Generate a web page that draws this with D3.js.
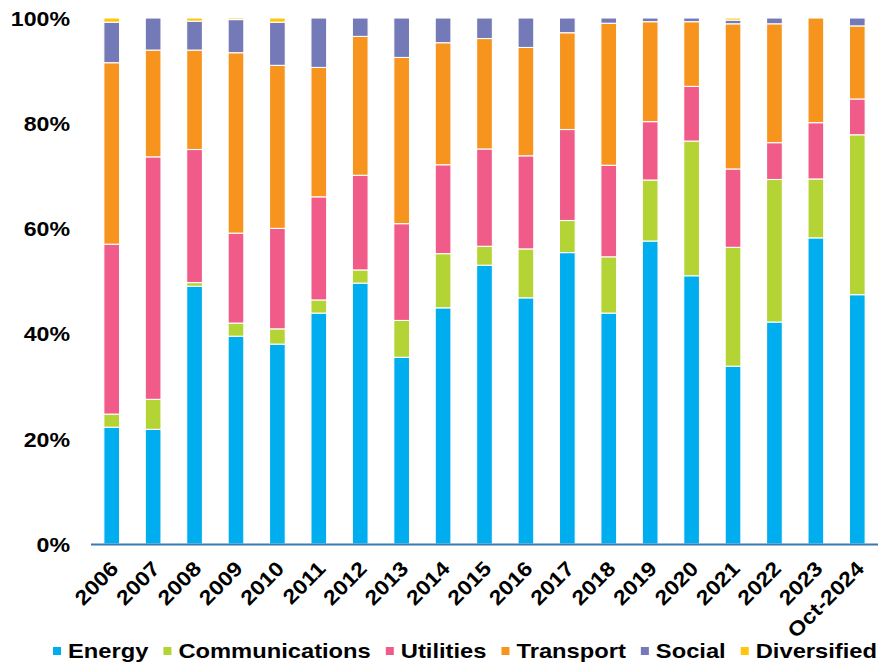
<!DOCTYPE html>
<html>
<head>
<meta charset="utf-8">
<script src="https://cdn.jsdelivr.net/npm/d3@7"></script>
<style>
  html, body { margin: 0; padding: 0; background: #ffffff; }
  svg { display: block; }
  text { font-family: "Liberation Sans", Arial, sans-serif; font-weight: bold; fill: #000; }
</style>
</head>
<body>
<svg id="chart" width="880" height="665"></svg>
<script>
// Share of infrastructure deals by sector, per year (percent of total)
const years = ["2006", "2007", "2008", "2009", "2010", "2011", "2012", "2013", "2014", "2015",
               "2016", "2017", "2018", "2019", "2020", "2021", "2022", "2023", "Oct-2024"];

const sectors = ["Energy", "Communications", "Utilities", "Transport", "Social", "Diversified"];

const energy         = [22.2, 21.8, 49.0, 39.5, 38.0, 43.9, 49.6, 35.5, 44.9, 53.0, 46.8, 55.4, 43.9, 57.6, 51.0, 33.8, 42.2, 58.2, 47.4];
const communications = [ 2.5,  5.7,  0.7,  2.5,  2.9,  2.5,  2.5,  7.0, 10.3,  3.6,  9.3,  6.1, 10.7, 11.6, 25.6, 22.6, 27.1, 11.2, 30.4];
const utilities      = [32.3, 46.1, 25.3, 17.1, 19.1, 19.6, 18.0, 18.4, 16.9, 18.5, 17.7, 17.3, 17.4, 11.1, 10.4, 14.9,  7.0, 10.7,  6.8];
const transport      = [34.5, 20.3, 18.9, 34.3, 31.0, 24.6, 26.4, 31.6, 23.2, 21.0, 20.6, 18.4, 27.0, 19.0, 12.3, 27.6, 22.6, 19.9, 13.9];
const social         = [ 7.7,  6.1,  5.5,  6.3,  8.2,  9.4,  3.5,  7.5,  4.7,  3.9,  5.6,  2.8,  1.0,  0.7,  0.7,  0.7,  1.1,  0.0,  1.5];
const diversified    = [ 0.8,  0.0,  0.6,  0.3,  0.8,  0.0,  0.0,  0.0,  0.0,  0.0,  0.0,  0.0,  0.0,  0.0,  0.0,  0.4,  0.0,  0.0,  0.0];

const yTicks = [0, 20, 40, 60, 80, 100];

const colors = {
  Energy: "#00adee",
  Communications: "#b4d334",
  Utilities: "#f05b8a",
  Transport: "#f7941e",
  Social: "#7479b7",
  Diversified: "#ffc60b"
};

// Labels are set in a horizontally widened bold sans
const STRETCH = 1.13;

// Build one row per year for the stack layout
const seriesValues = [energy, communications, utilities, transport, social, diversified];
const rows = years.map((year, i) => {
  const row = { year };
  sectors.forEach((s, k) => { row[s] = seriesValues[k][i]; });
  return row;
});

const svg = d3.select("#chart");
const margin = { left: 91, right: 2, top: 18, bottom: 121 };
const width = 880, height = 665;

const x = d3.scaleBand()
  .domain(years)
  .range([margin.left, width - margin.right])
  .paddingInner(0.62)
  .paddingOuter(0.31);

const y = d3.scaleLinear()
  .domain([0, 100])
  .range([height - margin.bottom, margin.top]);

const stacked = d3.stack().keys(sectors)(rows);

// Stacked bars
svg.append("g")
  .selectAll("g")
  .data(stacked)
  .join("g")
    .attr("fill", d => colors[d.key])
  .selectAll("rect")
  .data(d => d)
  .join("rect")
    .attr("x", d => x(d.data.year))
    .attr("width", x.bandwidth())
    .attr("y", d => y(d[1]))
    .attr("height", d => Math.max(0, y(d[0]) - y(d[1])))
    .attr("stroke", "#ffffff")
    .attr("stroke-width", 1.1);

// Y axis labels (no axis line)
const yAxis = svg.append("g")
  .attr("transform", `translate(${margin.left - 21},0)`)
  .call(d3.axisLeft(y).tickValues(yTicks).tickSize(0).tickPadding(0).tickFormat(d => d + "%"));
yAxis.select(".domain").remove();
yAxis.selectAll("text")
  .attr("x", 0)
  .attr("font-size", 20.5)
  .attr("dy", "0.36em")
  .attr("transform", `scale(${STRETCH},1)`)
  .style("font-family", "'Liberation Sans', Arial, sans-serif")
  .style("font-weight", "bold")
  .attr("fill", "#000");

// X axis: baseline plus rotated category labels
const xAxis = svg.append("g")
  .attr("transform", `translate(0,${y(0)})`)
  .call(d3.axisBottom(x).tickSize(0).tickPadding(0));
xAxis.select(".domain")
  .attr("stroke", "#3a78b0")
  .attr("stroke-width", 2)
  .attr("d", `M${margin.left},0.5H${width - margin.right}`);
xAxis.selectAll(".tick text")
  .attr("font-size", 20.5)
  .style("font-family", "'Liberation Sans', Arial, sans-serif")
  .style("font-weight", "bold")
  .attr("fill", "#000")
  .attr("text-anchor", "end")
  .attr("dy", 0)
  .attr("y", 0)
  .attr("transform", `translate(8,26) rotate(-45) scale(${STRETCH},1)`);

// Legend along the bottom
const legend = svg.append("g").attr("class", "legend");
const items = legend.selectAll("g")
  .data(sectors)
  .join("g");
items.append("rect")
  .attr("width", 8)
  .attr("height", 8)
  .attr("y", -11)
  .attr("fill", d => colors[d]);
items.append("text")
  .attr("font-size", 21)
  .attr("transform", `translate(15,0) scale(${STRETCH},1)`)
  .text(d => d);

const legendLeft = 53, legendRight = 877;
const itemWidths = [];
items.each(function () {
  const t = d3.select(this).select("text").node();
  itemWidths.push(15 + t.getComputedTextLength() * STRETCH);
});
const gap = (legendRight - legendLeft - d3.sum(itemWidths)) / (sectors.length - 1);
let cursor = legendLeft;
items.attr("transform", (d, i) => {
  const tx = cursor;
  cursor += itemWidths[i] + gap;
  return `translate(${tx},658)`;
});
</script>
</body>
</html>
